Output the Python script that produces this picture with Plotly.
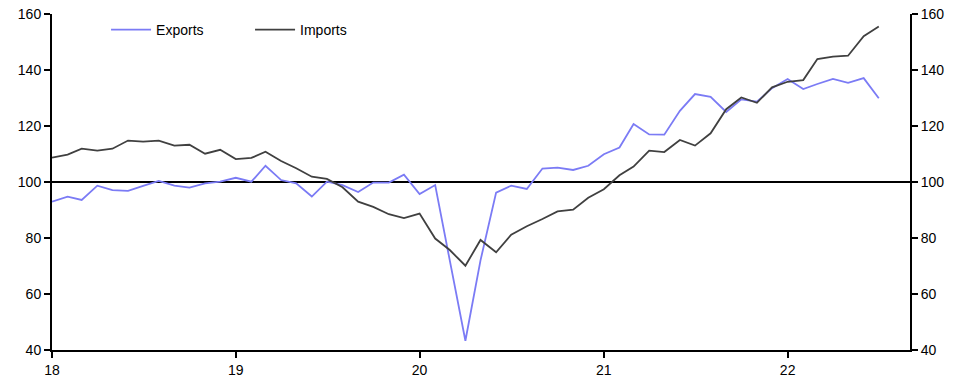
import plotly.graph_objects as go
import pandas as pd

months = pd.date_range("2018-01-01", periods=55, freq="MS").strftime("%Y-%m-%d").tolist()

exports = [93.0, 94.8, 93.6, 98.7, 97.1, 96.8, 98.6, 100.4, 98.7, 98.0, 99.5, 100.1,
           101.5, 100.1, 105.8, 100.7, 99.5, 94.8, 100.1, 98.9, 96.4, 99.8, 99.8, 102.6,
           95.7, 98.9, 72.0, 43.3, 72.0, 96.2, 98.7, 97.5, 104.8, 105.1, 104.3, 105.8,
           109.9, 112.3, 120.7, 117.0, 116.9, 125.4, 131.4, 130.4, 125.0, 129.5, 128.7, 133.5,
           136.8, 133.2, 135.0, 136.8, 135.4, 137.1, 129.9]

imports = [108.7, 109.8, 111.9, 111.2, 111.9, 114.8, 114.4, 114.8, 113.0, 113.3, 110.1, 111.5,
           108.2, 108.6, 110.8, 107.5, 104.9, 101.9, 101.1, 98.1, 93.0, 91.1, 88.5, 87.1,
           88.7, 79.8, 75.7, 70.1, 79.3, 74.9, 81.2, 84.2, 86.8, 89.5, 90.1, 94.4,
           97.4, 102.4, 105.5, 111.2, 110.7, 115.0, 113.0, 117.4, 126.0, 130.2, 128.3, 133.8,
           135.8, 136.4, 143.9, 144.8, 145.1, 152.1, 155.5]

y_ticks = [40, 60, 80, 100, 120, 140, 160]

fig = go.Figure()
fig.add_trace(go.Scatter(x=months, y=exports, name="Exports", mode="lines",
                         line=dict(color="#7b7bf5", width=1.8)))
fig.add_trace(go.Scatter(x=months, y=imports, name="Imports", mode="lines",
                         line=dict(color="#404040", width=1.8)))
# invisible trace for right axis
fig.add_trace(go.Scatter(x=months, y=imports, yaxis="y2", mode="lines",
                         line=dict(width=0), showlegend=False, hoverinfo="skip", opacity=0))

font = dict(family="Liberation Sans, Arial, sans-serif", size=14, color="black")

axis_common = dict(showgrid=False, zeroline=False, showline=True, linecolor="black",
                   linewidth=2, ticks="outside", ticklen=6, tickwidth=2,
                   tickcolor="black", automargin=False)

fig.update_layout(
    width=966, height=379,
    margin=dict(l=52, r=56, t=14, b=29, autoexpand=False),
    paper_bgcolor="white", plot_bgcolor="white",
    font=font,
    showlegend=True,
    legend=dict(orientation="h", x=0.063, y=1.0, xanchor="left", yanchor="top",
                bgcolor="rgba(0,0,0,0)", font=dict(size=14), itemwidth=40,
                entrywidth=89, tracegroupgap=0),
    xaxis=dict(type="date", range=["2018-01-01", "2022-09-01"],
               tickformat="%y", dtick="M12", tick0="2018-01-01", **axis_common),
    yaxis=dict(range=[40, 160], tickvals=y_ticks, **axis_common),
    yaxis2=dict(range=[40, 160], tickvals=y_ticks, overlaying="y", side="right",
                **axis_common),
    shapes=[dict(type="line", xref="paper", x0=0, x1=1, yref="y", y0=100, y1=100,
                 line=dict(color="black", width=2), layer="below")],
)

fig.write_html("out.html", config={"displayModeBar": False},
               post_script="document.body.style.margin='0';document.body.style.overflow='hidden';")
